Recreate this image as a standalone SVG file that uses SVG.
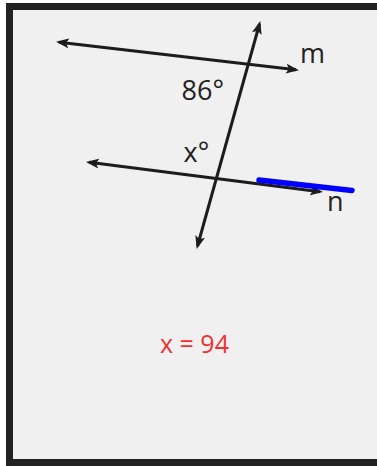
<svg xmlns="http://www.w3.org/2000/svg" width="377" height="466" viewBox="0 0 377 466">
<style>
.ln{stroke:#1c1c1c;stroke-width:3;fill:none}
.lbl{font-family:"Open Sans","Noto Sans","Liberation Sans",sans-serif;font-size:27px;fill:#222}
.ans{font-family:"Open Sans","Noto Sans","Liberation Sans",sans-serif;font-size:25px;fill:#f03030}
</style>
<defs>
<marker id="ah" viewBox="0 0 13 10" markerWidth="13" markerHeight="10" refX="10" refY="5" orient="auto-start-reverse" markerUnits="userSpaceOnUse">
<path d="M0,0 L13,5 L0,10 L3,5 z" fill="#1c1c1c"/>
</marker>
</defs>
<rect x="0" y="0" width="377" height="466" fill="#ffffff"/>
<rect id="frame" x="9.5" y="6.5" width="400" height="456" fill="#f0f0f0" stroke="#222222" stroke-width="7"/>
<g id="connectors">
<line id="line-m" class="ln" x1="59" y1="42.2" x2="296" y2="69.8" marker-start="url(#ah)" marker-end="url(#ah)"/>
<line id="transversal" class="ln" x1="259.5" y1="24" x2="197.5" y2="246" marker-start="url(#ah)" marker-end="url(#ah)"/>
<line id="line-n" class="ln" x1="89" y1="162.3" x2="320" y2="191.7" marker-start="url(#ah)" marker-end="url(#ah)"/>
<line id="highlight" x1="259" y1="180" x2="352" y2="190.5" stroke="#0000ff" stroke-width="5.5" stroke-linecap="round"/>
</g>
<g id="label-m"><text class="lbl" x="300" y="63">m</text></g>
<g id="label-86"><text class="lbl" x="181.5" y="100">86°</text></g>
<g id="label-x"><text class="lbl" x="183.5" y="162">x°</text></g>
<g id="label-n"><text class="lbl" x="327" y="211">n</text></g>
<g id="answer"><text class="ans" x="160" y="353">x = 94</text></g>
</svg>
